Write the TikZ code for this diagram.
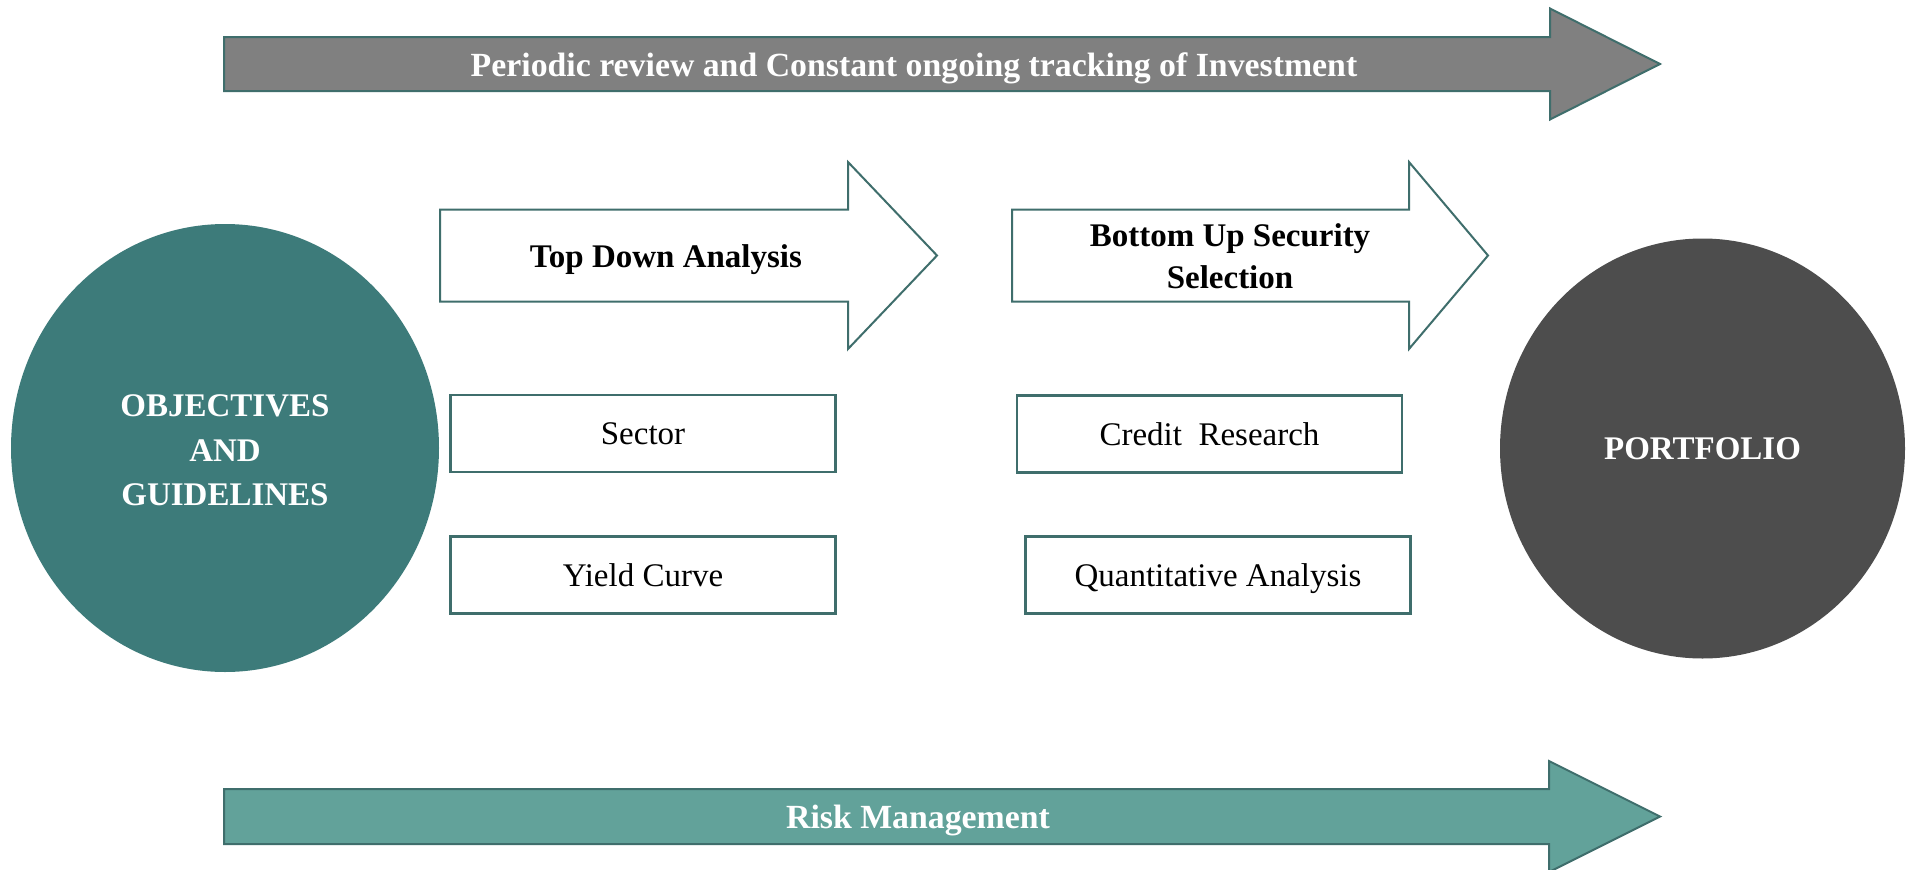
\documentclass[tikz,border=0pt]{standalone}
\usepackage{fontspec}
\setmainfont{Liberation Serif}
\usepackage{xcolor}
\usepackage{tikz}
\usetikzlibrary{shapes.geometric}
\definecolor{tealline}{HTML}{3F6E6C}
\definecolor{tealdark}{HTML}{3D7B7A}
\definecolor{teallight}{HTML}{62A29A}
\definecolor{greyarrow}{HTML}{808080}
\definecolor{greydark}{HTML}{4D4D4D}
\newcommand\flowarrow[7]{\draw[#1] (#2,#5-#6) -- (#3,#5-#6) -- (#3,#5-#7) -- (#4,#5) -- (#3,#5+#7) -- (#3,#5+#6) -- (#2,#5+#6) -- cycle;}
\tikzstyle{band}=[draw=tealline,line width=2pt,line join=miter]
\tikzstyle{box} =[draw=tealline,line width=2.5pt,fill=white,minimum width=385pt,minimum height=77pt,inner sep=0pt,text depth=0pt,font=\fontsize{33}{40}\selectfont]
\tikzstyle{hub} =[ellipse,inner sep=0pt,text=white,align=center,font=\fontsize{33}{44.5}\selectfont\bfseries]
\tikzstyle{lbl} =[inner sep=0pt,text depth=0pt,align=center,font=\fontsize{33}{41.5}\selectfont\bfseries]
\tikzstyle{wide}=[font=\fontsize{33.8}{41.5}\selectfont\bfseries]

\begin{document}
\begin{tikzpicture}[x=1pt,y=-1pt]
	\fill[white] (0,0) rectangle (1912,870);
	\useasboundingbox (0,0) rectangle (1912,870);
	\flowarrow{band,fill=greyarrow}{224}{1550}{1660}{64}{27}{55.5}
	\flowarrow{band,fill=teallight}{224}{1549}{1660}{816.5}{27.5}{55.5}
	\flowarrow{band,fill=white}{440}{848}{937}{255.5}{46}{93.5}
	\flowarrow{band,fill=white}{1012}{1409}{1488}{255.5}{46}{93.5}
	\node[lbl,wide,text=white] (track) at (914,65) {Periodic review and Constant ongoing tracking of Investment};
	\node[lbl,wide,text=white] (risk) at (918,817) {Risk Management};
	\node[lbl] (topdown) at (666,256) {Top Down Analysis};
	\node[lbl] (bottomup) at (1230,256) {Bottom Up Security\\Selection};
	\node[hub,fill=tealdark,minimum width=428pt,minimum height=448pt] (goals) at (225,448) {\rule{0pt}{27pt}OBJECTIVES\\AND\\GUIDELINES};
	\node[hub,fill=greydark,minimum width=405pt,minimum height=420pt] (portfolio) at (1702.5,448.5) {PORTFOLIO};
	\node[box] (sector) at (643,433.5) {Sector};
	\node[box] (yield) at (643,575) {Yield Curve};
	\node[box] (credit) at (1209.5,433.8) {Credit~ Research};
	\node[box] (quant) at (1218,575) {Quantitative Analysis};
\end{tikzpicture}
\end{document}
